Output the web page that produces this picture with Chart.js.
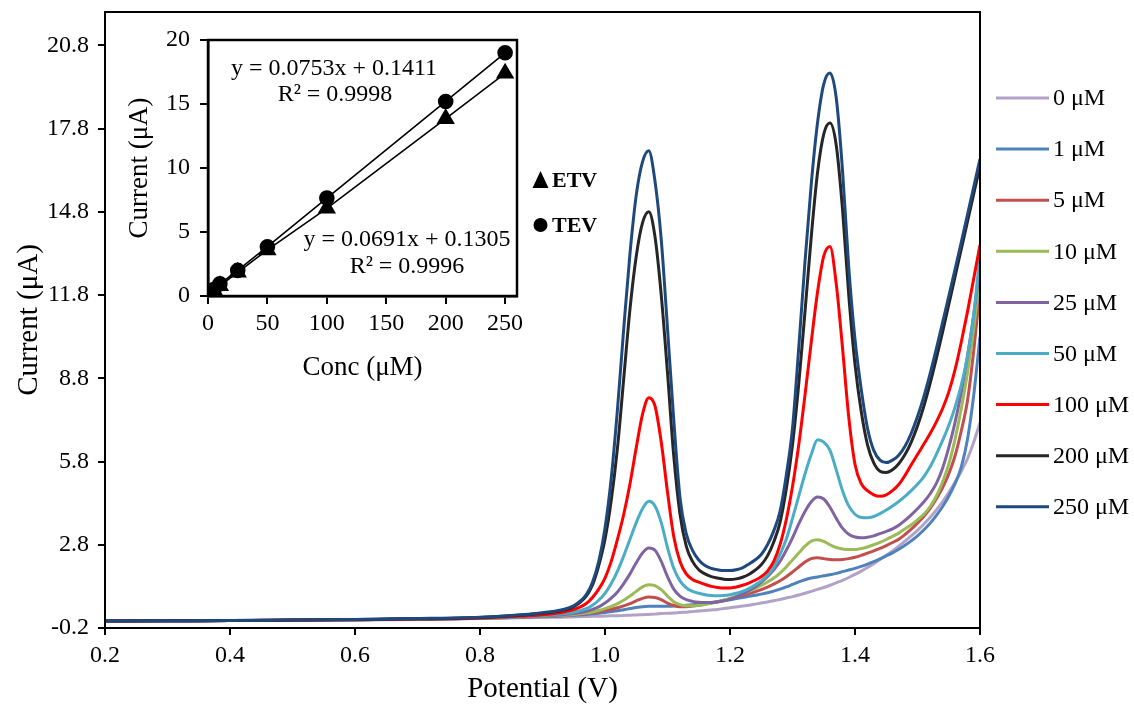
<!DOCTYPE html>
<html><head><meta charset="utf-8">
<script src="https://cdn.jsdelivr.net/npm/chart.js@4.4.1/dist/chart.umd.min.js"></script>
<style>
html,body{margin:0;padding:0;background:#fff;}
#wrap{position:relative;width:1134px;height:708px;overflow:hidden;}
#main{position:absolute;left:0;top:0;width:1134px;height:708px;}
#inset{position:absolute;left:110px;top:20px;width:430px;height:370px;}
</style></head><body>
<div id="wrap"><canvas id="main" width="1134" height="708"></canvas><canvas id="inset" width="430" height="370"></canvas></div>
<script>
// ---------- main chart data ----------
const potential = [0.2,0.3,0.4,0.5,0.6,0.7,0.8,0.85,0.9,0.93,0.95,0.97,0.98,0.99,
 1.00,1.01,1.02,1.03,1.04,1.05,1.06,1.07,1.08,1.09,
 1.10,1.11,1.12,1.13,1.14,1.15,1.16,1.17,1.18,1.19,
 1.20,1.21,1.22,1.23,1.24,1.25,1.26,1.27,1.28,1.29,
 1.30,1.31,1.32,1.33,1.34,1.35,1.36,1.37,1.38,1.39,
 1.40,1.41,1.42,1.43,1.44,1.45,1.46,1.47,1.48,1.49,
 1.50,1.51,1.52,1.53,1.54,1.55,1.56,1.57,1.58,1.59,1.60];

const c0 = [0.05,0.06,0.07,0.08,0.09,0.11,0.14,0.16,0.18,0.19,0.2,0.21,0.22,0.22,
 0.23,0.24,0.24,0.25,0.26,0.27,0.28,0.29,0.3,0.32,
 0.33,0.34,0.36,0.37,0.39,0.41,0.43,0.45,0.47,0.5,
 0.53,0.56,0.59,0.62,0.66,0.7,0.74,0.78,0.83,0.88,
 0.93,0.99,1.05,1.12,1.19,1.26,1.34,1.43,1.52,1.62,
 1.73,1.85,1.98,2.12,2.27,2.42,2.58,2.75,2.93,3.12,
 3.32,3.54,3.78,4.05,4.35,4.68,5.05,5.45,5.9,6.5,7.2];

const c1 = [0.05,0.06,0.07,0.08,0.1,0.12,0.15,0.18,0.21,0.23,0.26,0.29,0.31,0.33,
 0.36,0.39,0.42,0.46,0.5,0.54,0.57,0.58,0.58,0.58,
 0.58,0.59,0.6,0.62,0.64,0.66,0.69,0.72,0.75,0.78,
 0.82,0.86,0.9,0.94,0.98,1.02,1.07,1.13,1.2,1.28,
 1.37,1.46,1.54,1.6,1.64,1.68,1.72,1.77,1.83,1.89,
 1.95,2.02,2.1,2.19,2.29,2.4,2.51,2.64,2.78,2.94,
 3.12,3.33,3.57,3.85,4.17,4.55,5.0,5.6,6.6,8.2,10.3];

const c5 = [0.05,0.06,0.07,0.08,0.1,0.12,0.15,0.18,0.22,0.25,0.28,0.32,0.35,0.38,
 0.42,0.47,0.53,0.6,0.68,0.78,0.87,0.92,0.9,0.82,
 0.7,0.61,0.57,0.57,0.59,0.62,0.66,0.7,0.75,0.8,
 0.86,0.92,0.98,1.04,1.1,1.18,1.27,1.38,1.5,1.65,
 1.82,2.0,2.18,2.3,2.33,2.3,2.27,2.26,2.27,2.3,
 2.35,2.42,2.5,2.58,2.67,2.77,2.88,3.0,3.17,3.36,
 3.58,3.82,4.1,4.45,4.85,5.35,6.0,6.9,8.0,9.8,12.0];

const c10 = [0.05,0.06,0.07,0.08,0.1,0.12,0.15,0.18,0.23,0.26,0.29,0.34,0.38,0.43,
 0.5,0.58,0.68,0.8,0.95,1.12,1.28,1.36,1.33,1.18,
 0.95,0.75,0.64,0.6,0.6,0.62,0.65,0.69,0.74,0.8,
 0.87,0.95,1.03,1.12,1.22,1.33,1.46,1.6,1.78,2.0,
 2.25,2.5,2.75,2.93,2.98,2.92,2.8,2.7,2.65,2.63,
 2.63,2.66,2.72,2.8,2.89,2.99,3.1,3.22,3.37,3.52,
 3.7,3.9,4.17,4.55,5.05,5.7,6.6,7.7,9.0,10.6,12.5];

const c25 = [0.05,0.06,0.07,0.08,0.1,0.12,0.15,0.19,0.24,0.28,0.32,0.4,0.47,0.56,
 0.7,0.88,1.1,1.4,1.75,2.15,2.5,2.68,2.6,2.2,
 1.65,1.2,0.95,0.82,0.76,0.73,0.72,0.72,0.74,0.78,
 0.84,0.92,1.02,1.14,1.28,1.45,1.65,1.9,2.2,2.6,
 3.05,3.55,4.0,4.35,4.52,4.45,4.15,3.75,3.4,3.18,
 3.08,3.05,3.07,3.12,3.2,3.28,3.37,3.5,3.68,3.88,
 4.1,4.34,4.63,5.0,5.55,6.3,7.2,8.3,9.6,11.1,12.9];

const c50 = [0.05,0.06,0.07,0.08,0.1,0.12,0.16,0.2,0.25,0.31,0.37,0.5,0.62,0.8,
 1.05,1.4,1.85,2.4,3.0,3.6,4.1,4.37,4.2,3.6,
 2.7,1.95,1.5,1.25,1.12,1.05,1.0,0.97,0.96,0.97,
 1.0,1.05,1.12,1.22,1.35,1.5,1.7,2.0,2.45,3.0,
 3.75,4.55,5.35,6.05,6.58,6.5,6.2,5.5,4.75,4.2,
 3.9,3.78,3.77,3.82,3.92,4.05,4.2,4.36,4.54,4.75,
 4.98,5.25,5.6,6.05,6.55,7.1,7.75,8.55,9.6,11.1,13.3];

const c100 = [0.05,0.06,0.07,0.08,0.1,0.12,0.16,0.21,0.28,0.36,0.46,0.68,0.9,1.2,
 1.6,2.2,3.0,3.9,5.0,6.3,7.5,8.1,7.8,6.5,
 4.7,3.1,2.2,1.75,1.55,1.45,1.37,1.3,1.26,1.24,
 1.24,1.28,1.34,1.42,1.52,1.65,1.85,2.2,2.8,3.7,
 4.9,6.4,8.2,10.1,11.9,13.2,13.55,12.2,9.9,7.4,
 5.7,5.0,4.75,4.6,4.55,4.6,4.75,4.97,5.3,5.68,
 6.05,6.42,6.8,7.22,7.7,8.3,9.1,10.1,11.2,12.4,13.6];

const c200 = [0.05,0.06,0.07,0.09,0.11,0.13,0.18,0.24,0.33,0.43,0.57,0.95,1.35,2.05,
 3.0,4.4,6.3,8.8,11.3,13.2,14.4,14.8,13.9,11.8,
 9.0,6.0,3.9,2.75,2.2,1.9,1.75,1.65,1.6,1.56,
 1.55,1.57,1.63,1.73,1.88,2.08,2.4,2.9,3.6,4.8,
 6.4,8.6,11.2,13.9,16.2,17.6,18.0,17.2,14.9,11.8,
 9.3,7.6,6.4,5.75,5.45,5.4,5.5,5.72,6.05,6.5,
 7.08,7.78,8.6,9.5,10.45,11.45,12.45,13.45,14.45,15.45,16.45];

const c250 = [0.05,0.06,0.07,0.09,0.11,0.14,0.19,0.25,0.35,0.45,0.6,1.0,1.45,2.2,
 3.4,5.2,7.7,10.6,13.3,15.4,16.6,17.0,15.9,13.8,
 10.6,7.3,4.5,3.2,2.6,2.25,2.05,1.95,1.9,1.87,
 1.87,1.9,1.97,2.1,2.25,2.45,2.8,3.3,4.0,5.3,
 7.0,9.9,13.0,15.8,18.0,19.4,19.8,18.9,16.3,12.8,
 10.2,8.4,7.0,6.2,5.85,5.76,5.85,6.03,6.35,6.82,
 7.42,8.13,8.95,9.85,10.8,11.75,12.72,13.7,14.7,15.7,16.7];

const seriesLabels = ['0 μM','1 μM','5 μM','10 μM','25 μM','50 μM','100 μM','200 μM','250 μM'];
const seriesValues = [c0,c1,c5,c10,c25,c50,c100,c200,c250];
const seriesColors = ['#B3A2C7','#4F81BD','#C0504D','#9BBB59','#8064A2','#4BACC6','#FF0000','#262626','#1F497D'];
const xTicks = [0.2,0.4,0.6,0.8,1.0,1.2,1.4,1.6];
const yTicks = [-0.2,2.8,5.8,8.8,11.8,14.8,17.8,20.8];

// ---------- inset data ----------
const conc = [0,1,5,10,25,50,100,200,250];
const etv = [0.1,0.2,0.45,0.8,1.85,3.6,6.85,13.85,17.4];
const tev = [0.12,0.22,0.5,0.95,2.0,3.85,7.65,15.2,19.0];
const insetXTicks = [0,50,100,150,200,250];
const insetYTicks = [0,5,10,15,20];
const eqETV = ['y = 0.0753x + 0.1411','R² = 0.9998'];
const eqTEV = ['y = 0.0691x + 0.1305','R² = 0.9996'];
const insetLegend = ['ETV','TEV'];

const SERIF = "'Liberation Serif','Times New Roman',serif";

const boxPlugin = {
  id:'box',
  afterDraw(chart, args, opts){
    const {ctx, chartArea:a} = chart;
    ctx.save();
    ctx.strokeStyle = '#000';
    ctx.lineWidth = opts.width || 2;
    ctx.strokeRect(a.left, a.top, a.right - a.left, a.bottom - a.top);
    ctx.restore();
  }
};

const mainLegendPlugin = {
  id:'mainLegend',
  afterDraw(chart){
    const ctx = chart.ctx;
    ctx.save();
    ctx.font = '24px ' + SERIF;
    ctx.textBaseline = 'middle';
    ctx.textAlign = 'left';
    seriesLabels.forEach((lab,i)=>{
      const y = 98 + i*51.1;
      ctx.strokeStyle = seriesColors[i];
      ctx.lineWidth = 3;
      ctx.beginPath(); ctx.moveTo(996,y); ctx.lineTo(1049,y); ctx.stroke();
      ctx.fillStyle = '#000';
      ctx.fillText(lab, 1053, y+1);
    });
    // inset legend (ETV / TEV)
    ctx.fillStyle = '#000';
    ctx.beginPath();
    ctx.moveTo(540.5,171); ctx.lineTo(548.5,188); ctx.lineTo(532.5,188); ctx.closePath(); ctx.fill();
    ctx.beginPath(); ctx.arc(540.5,225,7,0,Math.PI*2); ctx.fill();
    ctx.font = 'bold 22px ' + SERIF;
    ctx.fillText(insetLegend[0], 552, 181);
    ctx.fillText(insetLegend[1], 552, 226);
    ctx.restore();
  }
};

new Chart(document.getElementById('main'), {
  type:'line',
  data:{datasets: seriesValues.map((s,i)=>({
    label: seriesLabels[i],
    data: potential.map((x,j)=>({x:x, y:s[j]})),
    borderColor: seriesColors[i], backgroundColor: seriesColors[i],
    borderWidth: 3, pointRadius:0, fill:false,
    cubicInterpolationMode:'monotone', order: -i
  }))},
  options:{
    responsive:false, animation:false, devicePixelRatio:1,
    layout:{padding:{top:12,right:154,left:0,bottom:0}},
    plugins:{legend:{display:false}, tooltip:{enabled:false}, box:{width:2}},
    scales:{
      x:{type:'linear', min:0.2, max:1.6,
        afterBuildTicks:s=>{s.ticks = xTicks.map(v=>({value:v}));},
        afterFit:s=>{s.height = 80;},
        ticks:{callback:v=>Number(v).toFixed(1), font:{family:SERIF,size:24}, color:'#000', padding:6, maxRotation:0, autoSkip:false},
        grid:{display:true, drawOnChartArea:false, drawTicks:true, tickLength:7, color:'#000', lineWidth:2},
        border:{display:true, color:'#000', width:2},
        title:{display:true, text:'Potential (V)', font:{family:SERIF,size:29}, color:'#000', padding:{top:0,bottom:1}}
      },
      y:{type:'linear', min:-0.2, max:22,
        afterBuildTicks:s=>{s.ticks = yTicks.map(v=>({value:v}));},
        afterFit:s=>{s.width = 105; s.paddingTop = 0; s.paddingBottom = 0;},
        ticks:{callback:v=>Number(v).toFixed(1), font:{family:SERIF,size:24}, color:'#000', padding:9, autoSkip:false},
        grid:{display:true, drawOnChartArea:false, drawTicks:true, tickLength:7, color:'#000', lineWidth:2},
        border:{display:true, color:'#000', width:2},
        title:{display:true, text:'Current (μA)', font:{family:SERIF,size:29}, color:'#000', padding:{top:12,bottom:0}}
      }
    }
  },
  plugins:[boxPlugin, mainLegendPlugin]
});

const insetTextPlugin = {
  id:'insetText',
  afterDraw(chart){
    const ctx = chart.ctx;
    const ox = 110, oy = 20; // canvas offset in page
    ctx.save();
    ctx.fillStyle = '#000';
    ctx.font = '24px ' + SERIF;
    ctx.textAlign = 'center';
    ctx.textBaseline = 'middle';
    ctx.fillText(eqETV[0], 334-ox, 69-oy);
    ctx.fillText(eqETV[1], 335-ox, 95-oy);
    ctx.fillText(eqTEV[0], 407-ox, 240-oy);
    ctx.fillText(eqTEV[1], 407-ox, 267-oy);
    ctx.restore();
  }
};

new Chart(document.getElementById('inset'), {
  type:'scatter',
  data:{datasets:[
    {label:'ETV', data: conc.map((c,i)=>({x:c,y:etv[i]})), showLine:true, borderColor:'#000', borderWidth:1.6,
     pointStyle:'triangle', pointRadius:9, backgroundColor:'#000', pointBorderColor:'#000'},
    {label:'TEV', data: conc.map((c,i)=>({x:c,y:tev[i]})), showLine:true, borderColor:'#000', borderWidth:1.6,
     pointStyle:'circle', pointRadius:7, backgroundColor:'#000', pointBorderColor:'#000'}
  ]},
  options:{
    responsive:false, animation:false, devicePixelRatio:1,
    layout:{padding:{top:20,right:23,left:0,bottom:0}},
    plugins:{legend:{display:false}, tooltip:{enabled:false}, box:{width:2.5}},
    scales:{
      x:{type:'linear', min:0, max:260,
        afterBuildTicks:s=>{s.ticks = insetXTicks.map(v=>({value:v}));},
        afterFit:s=>{s.height = 94;},
        ticks:{font:{family:SERIF,size:24}, color:'#000', padding:5, maxRotation:0, autoSkip:false},
        grid:{display:true, drawOnChartArea:false, drawTicks:true, tickLength:8, color:'#000', lineWidth:2},
        border:{display:true, color:'#000', width:2.5},
        title:{display:true, text:'Conc (μM)', font:{family:SERIF,size:27}, color:'#000', padding:{top:0,bottom:6}}
      },
      y:{type:'linear', min:0, max:20,
        afterBuildTicks:s=>{s.ticks = insetYTicks.map(v=>({value:v}));},
        afterFit:s=>{s.width = 98; s.paddingTop = 0; s.paddingBottom = 0;},
        ticks:{font:{family:SERIF,size:24}, color:'#000', padding:10, autoSkip:false},
        grid:{display:true, drawOnChartArea:false, drawTicks:true, tickLength:8, color:'#000', lineWidth:2},
        border:{display:true, color:'#000', width:2.5},
        title:{display:true, text:'Current (μA)', font:{family:SERIF,size:27}, color:'#000', padding:{top:14,bottom:0}}
      }
    }
  },
  plugins:[boxPlugin, insetTextPlugin]
});
</script>
</body></html>
